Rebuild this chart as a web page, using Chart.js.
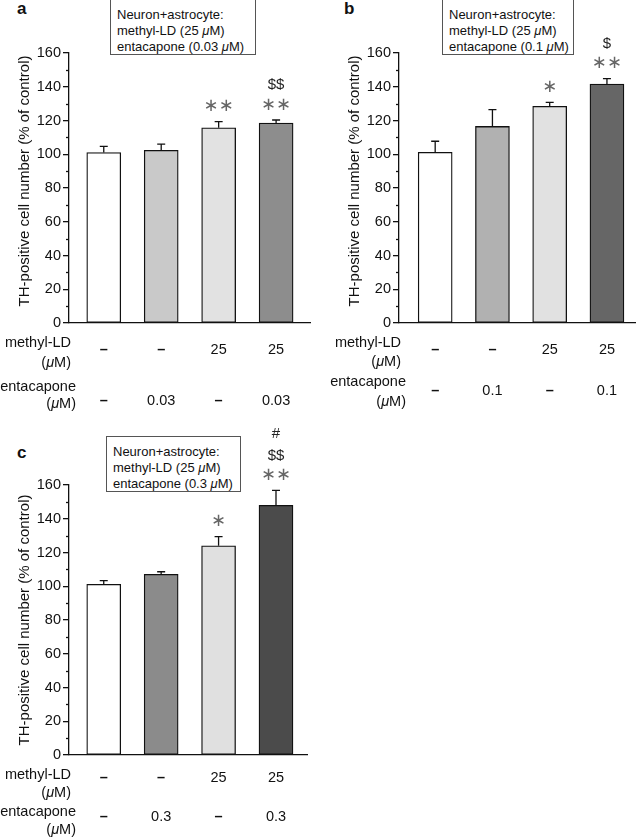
<!DOCTYPE html>
<html>
<head>
<meta charset="utf-8">
<script src="https://cdn.jsdelivr.net/npm/chart.js@4.4.1/dist/chart.umd.min.js"></script>
<style>
  body { margin: 0; background: #fff; width: 638px; height: 839px; position: relative; overflow: hidden;
         font-family: "Liberation Sans", Arial, sans-serif; color: #111; }
  canvas { position: absolute; }
  .box { position: absolute; border: 1px solid #555; background: #fff; font-size: 13px; line-height: 16px;
         padding: 7px 0 0 6px; box-sizing: border-box; white-space: nowrap; }
  .letter { position: absolute; font-weight: bold; font-size: 17px; line-height: 17px; }
</style>
</head>
<body>
<div class="letter" style="left:17px;top:0px">a</div>
<div class="letter" style="left:344px;top:0px">b</div>
<div class="letter" style="left:17px;top:444px">c</div>

<canvas id="chartA" width="320" height="420" style="left:0;top:0"></canvas>
<canvas id="chartB" width="318" height="420" style="left:320px;top:0"></canvas>
<canvas id="chartC" width="320" height="419" style="left:0;top:420px"></canvas>

<div class="box" style="left:110px;top:-1px;width:146px;height:56px">Neuron+astrocyte:<br>methyl-LD (25 <i>μ</i>M)<br>entacapone (0.03 <i>μ</i>M)</div>
<div class="box" style="left:442px;top:-1px;width:132px;height:56px">Neuron+astrocyte:<br>methyl-LD (25 <i>μ</i>M)<br>entacapone (0.1 <i>μ</i>M)</div>
<div class="box" style="left:106px;top:436px;width:135px;height:56px">Neuron+astrocyte:<br>methyl-LD (25 <i>μ</i>M)<br>entacapone (0.3 <i>μ</i>M)</div>

<script>
// groups (same order in every panel)
const categories = ['control', 'entacapone', 'methyl-LD', 'methyl-LD + entacapone'];
const yTicks = [0, 20, 40, 60, 80, 100, 120, 140, 160];

// treatment table rows
const methylLD = ['–', '–', '25', '25'];
const entacaponeA = ['–', '0.03', '–', '0.03'];
const entacaponeB = ['–', '0.1', '–', '0.1'];
const entacaponeC = ['–', '0.3', '–', '0.3'];

// panel a: entacapone 0.03 uM
const meanA = [101, 102.3, 115.7, 118.5];
const semA = [3.7, 3.7, 3.6, 1.8];
const starsA = ['', '', '∗∗', '∗∗'];
const dollarsA = ['', '', '', '$$'];
const hashA = ['', '', '', ''];
const colorsA = ['#ffffff', '#c9c9c9', '#e2e2e2', '#8d8d8d'];

// panel b: entacapone 0.1 uM
const meanB = [101.1, 116.5, 128.4, 141.6];
const semB = [6.6, 9.9, 2.4, 3.2];
const starsB = ['', '', '∗', '∗∗'];
const dollarsB = ['', '', '', '$'];
const hashB = ['', '', '', ''];
const colorsB = ['#ffffff', '#b1b1b1', '#e1e1e1', '#666666'];

// panel c: entacapone 0.3 uM
const meanC = [101.1, 107.1, 124.0, 148.0];
const semC = [2.2, 1.5, 5.4, 8.8];
const starsC = ['', '', '∗', '∗∗'];
const dollarsC = ['', '', '', '$$'];
const hashC = ['', '', '', '#'];
const colorsC = ['#ffffff', '#8b8b8b', '#e0e0e0', '#4b4b4b'];

const FONT = '"Liberation Sans", Arial, sans-serif';

// draw text pieces right-aligned, some of them italic
function drawRight(ctx, parts, xRight, y, size) {
  let w = 0;
  parts.forEach(p => { ctx.font = (p[1] ? 'italic ' : '') + size + 'px ' + FONT; w += ctx.measureText(p[0]).width; });
  let x = xRight - w;
  ctx.textAlign = 'left';
  parts.forEach(p => {
    ctx.font = (p[1] ? 'italic ' : '') + size + 'px ' + FONT;
    ctx.fillText(p[0], x, y);
    x += ctx.measureText(p[0]).width;
  });
}

const extras = {
  id: 'extras',
  afterDraw(chart) {
    const o = chart.options.plugins.extras;
    const ctx = chart.ctx;
    const xs = chart.scales.x, ys = chart.scales.y;
    const left = chart.chartArea.left;
    ctx.save();
    ctx.fillStyle = '#111';
    ctx.strokeStyle = '#111';
    ctx.lineWidth = 1.3;

    // minor ticks
    for (let v = 10; v < 160; v += 20) {
      const y = Math.round(ys.getPixelForValue(v)) + 0.5;
      ctx.beginPath(); ctx.moveTo(left - 3, y); ctx.lineTo(left, y); ctx.stroke();
    }

    // error bars + significance marks
    o.mean.forEach((m, i) => {
      const x = xs.getPixelForValue(i);
      const yb = ys.getPixelForValue(m);
      const yt = ys.getPixelForValue(m + o.sem[i]);
      ctx.strokeStyle = '#111';
      ctx.beginPath();
      ctx.moveTo(x, yb); ctx.lineTo(x, yt);
      ctx.moveTo(x - 4, yt); ctx.lineTo(x + 4, yt);
      ctx.stroke();

      ctx.textAlign = 'center';
      ctx.textBaseline = 'middle';
      if (o.stars[i]) {
        ctx.fillStyle = '#666';
        ctx.font = '18px "DejaVu Sans"';
        ctx.fillText(o.stars[i], x, yt - 15);
      }
      ctx.fillStyle = '#222';
      ctx.font = '15px ' + FONT;
      if (o.dollars[i]) ctx.fillText(o.dollars[i], x, yt - 35);
      if (o.hash[i]) ctx.fillText(o.hash[i], x, yt - 57);
    });

    // y axis title
    ctx.save();
    ctx.translate(left - 44, (chart.chartArea.top + chart.chartArea.bottom) / 2 + o.titleDy);
    ctx.rotate(-Math.PI / 2);
    ctx.font = '15px ' + FONT;
    ctx.textAlign = 'center';
    ctx.textBaseline = 'middle';
    ctx.fillStyle = '#111';
    ctx.fillText('TH-positive cell number (% of control)', 0, 0);
    ctx.restore();

    // treatment table
    const r = o.rows;
    ctx.textBaseline = 'middle';
    ctx.fillStyle = '#111';
    drawRight(ctx, [['methyl-LD', false]], left + 2, r[0], 14.5);
    drawRight(ctx, [['(', false], ['μ', true], ['M)', false]], left + 2, r[1], 14.5);
    drawRight(ctx, [['entacapone', false]], left + 7, r[2], 14.5);
    drawRight(ctx, [['(', false], ['μ', true], ['M)', false]], left + 7, r[3], 14.5);
    ctx.textAlign = 'center';
    categories.forEach((c, i) => {
      const x = xs.getPixelForValue(i);
      [[methylLD[i], r[4]], [o.enta[i], r[5]]].forEach(([t, y]) => {
        ctx.font = (t === '–' ? 'bold ' : '') + '14.5px ' + FONT;
        ctx.fillText(t, x, y);
      });
    });
    ctx.restore();
  }
};

function makePanel(id, p) {
  const cv = document.getElementById(id);
  new Chart(cv, {
    type: 'bar',
    data: {
      datasets: [{
        data: p.mean.map((m, i) => ({ x: i, y: m })),
        backgroundColor: p.colors,
        borderColor: '#111',
        borderWidth: 1.3,
        borderSkipped: false,
        barThickness: 34
      }]
    },
    options: {
      responsive: false,
      animation: false,
      layout: { autoPadding: false, padding: { left: 0, top: p.top, right: cv.width - p.right, bottom: cv.height - p.bottom } },
      scales: {
        x: {
          type: 'linear', min: p.xmin, max: p.xmax, offset: false,
          ticks: { display: false },
          grid: { display: false, drawTicks: false, offset: false },
          border: { display: true, color: '#111', width: 1.3 },
          afterFit: s => { s.height = 0; }
        },
        y: {
          min: 0, max: 160,
          afterBuildTicks: s => { s.ticks = yTicks.map(v => ({ value: v })); },
          ticks: { color: '#111', padding: 2, font: { family: FONT, size: 14.5 } },
          grid: { drawOnChartArea: false, drawTicks: true, tickLength: 6, color: '#111', lineWidth: 1.3 },
          border: { display: true, color: '#111', width: 1.3 },
          afterFit: s => { s.width = p.left; }
        }
      },
      plugins: {
        legend: { display: false },
        tooltip: { enabled: false },
        extras: {
          mean: p.mean, sem: p.sem, stars: p.stars, dollars: p.dollars, hash: p.hash,
          enta: p.enta, rows: p.rows, titleDy: p.titleDy
        }
      }
    },
    plugins: [extras]
  });
}

makePanel('chartA', {
  mean: meanA, sem: semA, stars: starsA, dollars: dollarsA, hash: hashA, colors: colorsA, enta: entacaponeA,
  left: 69, right: 310, top: 53, bottom: 323, xmin: -0.605, xmax: 3.59, titleDy: -7,
  rows: [343, 363, 387, 404, 350, 401]
});
makePanel('chartB', {
  mean: meanB, sem: semB, stars: starsB, dollars: dollarsB, hash: hashB, colors: colorsB, enta: entacaponeB,
  left: 79, right: 315, top: 53, bottom: 323, xmin: -0.632, xmax: 3.49, titleDy: -7,
  rows: [343, 362, 382, 402, 350, 391]
});
makePanel('chartC', {
  mean: meanC, sem: semC, stars: starsC, dollars: dollarsC, hash: hashC, colors: colorsC, enta: entacaponeC,
  left: 69, right: 307, top: 65, bottom: 335, xmin: -0.605, xmax: 3.54, titleDy: 0,
  rows: [355, 373, 392, 410, 358, 397]
});
</script>
</body>
</html>
